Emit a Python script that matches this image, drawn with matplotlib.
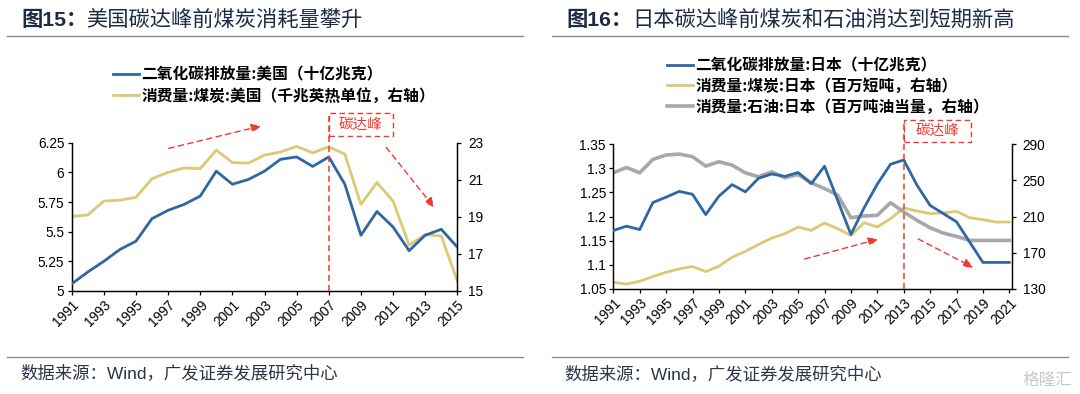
import matplotlib.pyplot as plt
from matplotlib.patches import Rectangle
from matplotlib.lines import Line2D

plt.rcParams['font.family'] = ['Liberation Sans', 'Noto Sans CJK SC']
plt.rcParams['axes.unicode_minus'] = False

# ---- data: USA ----
us_years = list(range(1991, 2016))
us_co2 = [5.06, 5.16, 5.25, 5.35, 5.42, 5.61, 5.68, 5.73, 5.80, 6.01, 5.90, 5.94,
          6.01, 6.11, 6.13, 6.05, 6.13, 5.90, 5.47, 5.67, 5.54, 5.34, 5.47, 5.52, 5.37]
us_coal = [19.02, 19.10, 19.85, 19.90, 20.05, 21.06, 21.40, 21.64, 21.60, 22.60, 21.93, 21.90,
           22.33, 22.50, 22.80, 22.45, 22.78, 22.38, 19.67, 20.85, 19.85, 17.48, 18.04, 17.97, 15.54]

# ---- data: Japan ----
jp_years = list(range(1991, 2022))
jp_co2 = [1.171, 1.180, 1.173, 1.229, 1.240, 1.252, 1.246, 1.204, 1.242, 1.266, 1.251, 1.279,
          1.288, 1.283, 1.291, 1.268, 1.304, 1.233, 1.163, 1.218, 1.267, 1.308, 1.317, 1.265,
          1.223, 1.206, 1.189, 1.147, 1.105, 1.105, 1.105]
jp_coal = [137.4, 135.5, 138.5, 143.7, 148.5, 152.2, 154.8, 149.2, 155.1, 165.1, 171.4, 179.1,
           186.2, 191.0, 198.4, 194.7, 202.8, 196.5, 189.1, 203.2, 198.4, 207.6, 219.4, 216.1,
           213.1, 213.9, 215.7, 208.7, 206.5, 203.9, 203.9]
jp_oil = [258.2, 264.1, 258.2, 273.0, 277.8, 278.9, 276.0, 265.6, 270.4, 266.7, 258.2, 253.8,
          259.3, 252.7, 256.4, 247.1, 240.9, 233.5, 208.7, 210.6, 211.3, 225.3, 215.0, 205.8,
          197.6, 191.7, 188.0, 183.6, 183.6, 183.6, 183.6]

BLUE = '#2E67A3'
YELLOW = '#DDC874'
GRAY = '#A8A8A8'
RED = '#F03A2E'
NAVY = '#1F2B45'

W, H = 1080, 394
fig = plt.figure(figsize=(W / 100, H / 100), dpi=100)


def px_axes(x0, y0, x1, y1):
    return fig.add_axes([x0 / W, 1 - y1 / H, (x1 - x0) / W, (y1 - y0) / H])


def style(ax, ax2, years, xmax):
    ax.set_xlim(years[0], xmax)
    ax.set_xticks(years[::2])
    ax.set_xticklabels([str(y) for y in years[::2]], rotation=45, ha='right',
                       rotation_mode='anchor', fontsize=9.8)
    for a in (ax, ax2):
        a.spines['top'].set_visible(False)
        for s in ('left', 'right', 'bottom'):
            a.spines[s].set_linewidth(0.9)
        a.tick_params(direction='out', length=2.8, width=0.9, labelsize=9.8, pad=2.5)
    ax2.tick_params(axis='y', pad=5)
    ax.tick_params(axis='x', pad=2)


def header(x0, x1, num, title, tx, src_x, src_y):
    fig.add_artist(Line2D([x0 / W, x1 / W], [1 - 36 / H, 1 - 36 / H], color='#8C8C8C', lw=1.0))
    fig.add_artist(Line2D([x0 / W, x1 / W], [1 - 356.5 / H, 1 - 356.5 / H], color='#8C8C8C', lw=1.0))
    fig.text((x0 + 14) / W, 1 - 20 / H, num, fontsize=15.3, fontweight='bold', color=NAVY,
             va='center', family=['Liberation Sans', 'Noto Sans CJK SC'])
    fig.text(tx / W, 1 - 20 / H, title, fontsize=15.3, color=NAVY, va='center',
             family=['Noto Sans CJK SC'])
    fig.text(src_x / W, 1 - src_y / H, '数据来源：Wind，广发证券发展研究中心', fontsize=12.5,
             color='#2B3448', va='center', family=['Liberation Sans', 'Noto Sans CJK SC'])


def peak_marker(ax, year, width, y_top, y_bot):
    trans = ax.get_xaxis_transform()
    ax.plot([year, year], [0, y_top], transform=trans, color=RED, lw=1.1,
            ls=(0, (4, 2.5)), clip_on=False, zorder=5)
    ax.add_patch(Rectangle((year, y_bot), width, y_top - y_bot, transform=trans,
                           fill=False, ec=RED, lw=1.0, ls=(0, (4, 2.5)), clip_on=False))
    ax.text(year + width / 2, (y_top + y_bot) / 2, '碳达峰', transform=trans, color=RED,
            fontsize=10.5, ha='center', va='center', family=['Noto Sans CJK SC'])


def arrow(ax, x0, y0, x1, y1):
    ax.annotate('', xy=(x1, y1), xytext=(x0, y0), annotation_clip=False,
                arrowprops=dict(arrowstyle='-|>,head_length=0.6,head_width=0.25',
                                color=RED, lw=1.0, ls=(0, (4, 3)), shrinkA=0, shrinkB=0))


legend_font = {'family': ['Noto Sans CJK SC'], 'size': 11.3, 'weight': 'bold'}

# ================= left: USA =================
axL = px_axes(71.7, 142.7, 457.3, 291)
axL2 = axL.twinx()
l1, = axL.plot(us_years, us_co2, color=BLUE, lw=2.0, label='二氧化碳排放量:美国（十亿兆克）', zorder=4)
l2, = axL2.plot(us_years, us_coal, color=YELLOW, lw=2.0, label='消费量:煤炭:美国（千兆英热单位，右轴）')
axL.set_zorder(axL2.get_zorder() + 1)
axL.patch.set_visible(False)
axL.set_ylim(5, 6.25)
axL.set_yticks([5, 5.25, 5.5, 5.75, 6, 6.25])
axL.set_yticklabels(['5', '5.25', '5.5', '5.75', '6', '6.25'])
axL2.set_ylim(15, 23)
axL2.set_yticks([15, 17, 19, 21, 23])
style(axL, axL2, us_years, 2015)
peak_marker(axL, 2007, 4.0, 1.200, 1.045)
arrow(axL, 1997.04, 6.202, 2002.82, 6.392)
arrow(axL, 2010.58, 6.210, 2013.58, 5.701)
fig.legend(handles=[l1, l2], loc='upper left', bbox_to_anchor=(107 / W, 1 - 60 / H),
           frameon=False, handlelength=1.65, handletextpad=0.15, labelspacing=0.36,
           borderaxespad=0, prop=legend_font)

# ================= right: Japan =================
axR = px_axes(613.3, 144, 1011.7, 289)
axR2 = axR.twinx()
r1, = axR.plot(jp_years, jp_co2, color=BLUE, lw=2.0, label='二氧化碳排放量:日本（十亿兆克）', zorder=4)
r2, = axR2.plot(jp_years, jp_coal, color=YELLOW, lw=2.0, label='消费量:煤炭:日本（百万短吨，右轴）')
r3, = axR2.plot(jp_years, jp_oil, color=GRAY, lw=2.6, label='消费量:石油:日本（百万吨油当量，右轴）')
axR.set_zorder(axR2.get_zorder() + 1)
axR.patch.set_visible(False)
axR.set_ylim(1.05, 1.35)
axR.set_yticks([1.05, 1.1, 1.15, 1.2, 1.25, 1.3, 1.35])
axR.set_yticklabels(['1.05', '1.1', '1.15', '1.2', '1.25', '1.3', '1.35'])
axR2.set_ylim(130, 290)
axR2.set_yticks([130, 170, 210, 250, 290])
style(axR, axR2, jp_years, 2021.18)
peak_marker(axR, 2013, 5.08, 1.167, 1.011)
arrow(axR, 2005.5, 1.112, 2011.1, 1.1535)
arrow(axR, 2014.1, 1.1535, 2018.3, 1.094)
fig.legend(handles=[r1, r2, r3], loc='upper left', bbox_to_anchor=(661 / W, 1 - 51 / H),
           frameon=False, handlelength=1.65, handletextpad=0.15, labelspacing=0.3,
           borderaxespad=0, prop=legend_font)

header(7, 523, '图15：', '美国碳达峰前煤炭消耗量攀升', 86, 20, 373)
header(552, 1068, '图16：', '日本碳达峰前煤炭和石油消达到短期新高', 632, 564, 374)
fig.text(1072 / W, 1 - 380 / H, '格隆汇', fontsize=12, color='#C8C8C8', ha='right',
         va='center', family=['Noto Sans CJK SC'])

fig.savefig('out.png', dpi=100)
